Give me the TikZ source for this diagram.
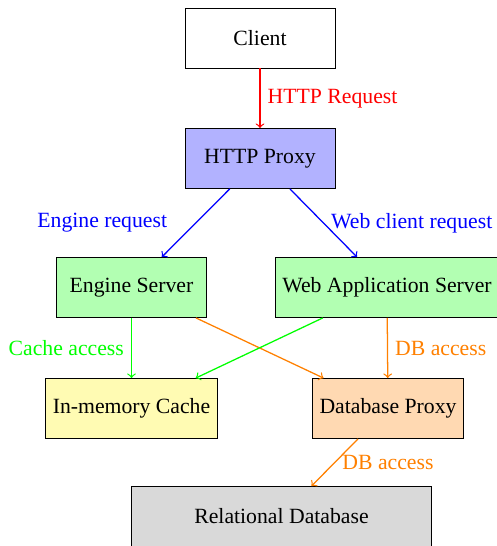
\documentclass[tikz,border=0pt]{standalone}
\usepackage{fontspec}
\setmainfont{Liberation Serif}
\begin{document}
\begin{tikzpicture}[x=0.0166667cm, y=-0.0166667cm,
  every node/.style={font=\fontsize{10.3}{12}\selectfont},
  box/.style={draw, rectangle, minimum width=2.5cm, minimum height=1cm, align=center},
  conn/.style={->, semithick}]
\useasboundingbox (0,0) rectangle (497,546);
\node[box, fill=white] (client) at (260,38) {Client};
\node[box, fill=blue!30] (proxy) at (260,158.5) {HTTP Proxy};
\node[box, fill=green!30] (engine) at (131.5,287.5) {Engine Server};
\node[box, fill=green!30] (web) at (387,287.5) {Web Application Server};
\node[box, fill=yellow!30] (cache) at (131.5,408.5) {In-memory Cache};
\node[box, fill=orange!30] (dbp) at (388,408.5) {Database Proxy};
\node[box, fill=gray!30, minimum width=5cm] (rdb) at (281.5,516.5) {Relational Database};

\draw[conn, red] (client) -- node[right] {HTTP Request} (proxy);
\draw[conn, blue] (proxy) -- node[left=0.35cm] {Engine request} (engine);
\draw[conn, blue] (proxy) -- node[right] {Web client request} (web);
\draw[conn, green] (engine) -- node[left] {Cache access} (cache);
\draw[conn, orange] (engine) -- (dbp);
\draw[conn, green] (web) -- (cache);
\draw[conn, orange] (web) -- node[right] {DB access} (dbp);
\draw[conn, orange] (dbp) -- node[right] {DB access} (rdb);
\end{tikzpicture}
\end{document}
